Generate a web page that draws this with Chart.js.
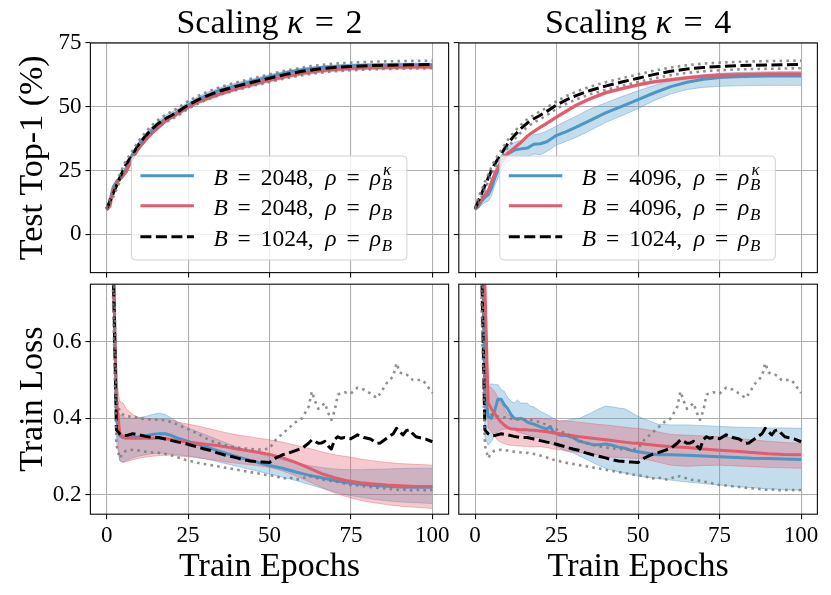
<!DOCTYPE html>
<html><head><meta charset="utf-8">
<script src="https://cdn.jsdelivr.net/npm/chart.js@4.4.1/dist/chart.umd.min.js"></script>
<style>
html,body{margin:0;padding:0;background:#fff;}
#wrap{position:relative;width:831px;height:595px;overflow:hidden;background:#fff;}
#wrap canvas{position:absolute;left:0;top:0;}
</style></head><body>
<div id="wrap">
<canvas id="cTL" width="831" height="595"></canvas>
<canvas id="cTR" width="831" height="595"></canvas>
<canvas id="cBL" width="831" height="595"></canvas>
<canvas id="cBR" width="831" height="595"></canvas>
</div>
<script>
// ---------------- DATA ----------------
const kappas = [2, 4];
const legendBatch = [[2048, 2048, 1024], [4096, 4096, 1024]];
const xTicks = [0, 25, 50, 75, 100];
const accTicks = [0, 25, 50, 75];
const lossTicks = [0.2, 0.4, 0.6];
const xTitle = 'Train Epochs';
const yTitleTop = 'Test Top-1 (%)';
const yTitleBottom = 'Train Loss';

const accEpochs = [0,1,2,3,4,5,6,8,10,12,14,16,18,20,22,25,28,31,35,40,45,50,55,60,65,70,75,80,85,90,95,100];

const accBlueK2   = [10,13,18.5,20.5,22,23,26, 31.5,35.5,38.3,41,43.2,45.2,46.7,48, 50.6,52.8,54.6,56.6, 58.4,60.1,61.8,63.3,64.5,65.3,65.8,66.1,66.3,66.4,66.5,66.5,66.5];
const accBlueK2Hi = [10.3,13.8,19.4,21.4,22.9,24,27, 32.6,36.7,39.6,42.4,44.6,46.5,48,49.3, 51.8,53.9,55.7,57.6, 59.4,61,62.6,64,65.1,65.9,66.4,66.7,66.9,67,67.1,67.1,67.1];
const accBlueK2Lo = [9.7,12.2,17.6,19.6,21.1,22,25, 30.4,34.3,37,39.6,41.8,43.9,45.4,46.7, 49.4,51.7,53.5,55.6, 57.4,59.2,61,62.6,63.9,64.7,65.2,65.5,65.7,65.8,65.9,65.9,65.9];
const accRedK2    = [9.5,11,17.5,20,21.5,23,24.5, 30,34,37,39.8,42,44.3,46,47.5, 49.8,51.8,53.3,55.1, 57.1,58.8,60.4,61.9,63.1,64,64.6,65,65.3,65.4,65.5,65.6,65.6];
const accRedK2Hi  = [10,11.7,18.2,20.7,22.2,23.7,25.2, 30.7,34.7,37.7,40.5,42.7,45,46.7,48.2, 50.5,52.5,54,55.8, 57.8,59.5,61.1,62.6,63.8,64.7,65.3,65.7,66,66.1,66.2,66.3,66.3];
const accRedK2Lo  = [9,10.3,16.8,19.3,20.8,22.3,23.8, 29.3,33.3,36.3,39.1,41.3,43.6,45.3,46.8, 49.1,51.1,52.6,54.4, 56.4,58.1,59.7,61.2,62.4,63.3,63.9,64.3,64.6,64.7,64.8,64.9,64.9];

const accBlueK4   = [10,11,13,14.5,15.5,18,22, 28,31.5,33,33.5,33.8,35.3,35.5,36.3, 38.8,40.3,42,44.5, 47.6,50.2,52.8,55.5,57.9,59.6,60.8,61.5,61.8,62,62.1,62.1,62.1];
const accBlueK4Hi = [10.3,12,14.5,16.5,18,21,25, 31,34.5,36,36.8,37.5,39,39.5,40.5, 42.5,44.5,46.3,49, 51.5,54,56.3,58.4,60.2,61.5,62.5,63.1,63.4,63.6,63.7,63.8,63.8];
const accBlueK4Lo = [9.7,10,11.5,12.5,13,15,19, 25,28.5,30,30.5,30.5,31.5,31.2,32.5, 35,36.5,38,40.5, 43.8,46.5,49.3,52.5,55,56.8,57.6,58,58.2,58.3,58.4,58.4,58.4];
const accRedK4    = [10,11.8,13.5,15.5,17,20.5,23.5, 28.5,31.8,33.8,36,38.5,40.3,42,43.5, 46,48.3,50.6,53, 55.5,57.1,58.6,59.8,60.6,61.4,62,62.4,62.6,62.7,62.8,62.8,62.8];
const accRedK4Hi  = [10.3,12.4,14.1,16.1,17.6,21.1,24.1, 29.1,32.4,34.4,36.6,39.1,40.9,42.6,44.1, 46.6,48.9,51.2,53.6, 56.1,57.7,59.2,60.4,61.2,62,62.6,63,63.2,63.3,63.4,63.4,63.4];
const accRedK4Lo  = [9.7,11.2,12.9,14.9,16.4,19.9,22.9, 27.9,31.2,33.2,35.4,37.9,39.7,41.4,42.9, 45.4,47.7,50,52.4, 54.9,56.5,58,59.2,60,60.8,61.4,61.8,62,62.1,62.2,62.2,62.2];

const accBase     = [10,13,16,19,22,25,27.5, 31.5,35.5,38.7,41.4,43.6,45.3,46.7,48.2, 50.7,52.7,54.4,56.3, 58.1,59.7,61.2,62.7,63.9,64.8,65.4,65.8,66.1,66.3,66.4,66.5,66.6];
const accBaseHi   = [10.4,14.3,17.4,20.4,23.4,26.4,29, 33,37,40.2,42.9,45.1,46.8,48.2,49.7, 52.2,54.2,55.9,57.8, 59.6,61.2,62.7,64.2,65.4,66.3,66.9,67.3,67.6,67.8,67.9,68,68.1];
const accBaseLo   = [9.6,11.7,14.6,17.6,20.6,23.6,26, 30,34,37.2,39.9,42.1,43.8,45.2,46.7, 49.2,51.2,52.9,54.8, 56.6,58.2,59.7,61.2,62.4,63.3,63.9,64.3,64.6,64.8,64.9,65,65.1];

const lossEpochsK2 = [1,2,3,4,5,6,8,10,12,14,16,18,20,22,25,28,31,34,37,40,43,46,50,54,58,62,66,70,74,78,82,86,90,95,100];
const lossBlueK2   = [2.0,0.85,0.40,0.355,0.35,0.348, 0.35,0.352,0.355,0.358,0.36,0.36,0.355,0.348, 0.34,0.332,0.324,0.316,0.308,0.30,0.293,0.286, 0.277,0.27,0.26,0.252,0.245,0.238,0.232,0.228,0.225,0.223,0.221, 0.22,0.22];
const lossBlueK2Hi = [2.1,0.95,0.43,0.41,0.405,0.40, 0.40,0.402,0.405,0.41,0.414,0.41,0.40,0.39, 0.375,0.365,0.355,0.345,0.335,0.325,0.317,0.31, 0.30,0.292,0.284,0.277,0.272,0.268,0.266,0.266,0.267,0.268,0.269, 0.27,0.27];
const lossBlueK2Lo = [1.9,0.75,0.34,0.29,0.285,0.29, 0.297,0.302,0.305,0.308,0.309,0.309,0.307,0.305, 0.302,0.298,0.293,0.287,0.281,0.275,0.269,0.263, 0.255,0.247,0.238,0.228,0.218,0.208,0.20,0.194,0.189,0.185,0.182, 0.18,0.178];
const lossRedK2    = [2.2,0.80,0.45,0.36,0.352,0.35, 0.348,0.348,0.348,0.348,0.348,0.347,0.345,0.341, 0.338,0.335,0.332,0.329,0.325,0.32,0.316,0.312, 0.306,0.297,0.285,0.271,0.256,0.245,0.237,0.232,0.229,0.226,0.224, 0.222,0.222];
const lossRedK2Hi  = [2.3,0.9,0.5,0.445,0.44,0.425, 0.41,0.402,0.40,0.398,0.397,0.397,0.396,0.39, 0.385,0.38,0.374,0.368,0.362,0.357,0.353,0.349, 0.344,0.338,0.33,0.322,0.313,0.305,0.30,0.294,0.289,0.285,0.282, 0.28,0.278];
const lossRedK2Lo  = [2.1,0.7,0.38,0.29,0.285,0.287, 0.292,0.296,0.299,0.301,0.303,0.304,0.304,0.302, 0.30,0.297,0.294,0.29,0.286,0.283,0.28,0.277, 0.272,0.263,0.25,0.235,0.22,0.205,0.195,0.186,0.18,0.175,0.171, 0.168,0.165];

const lossEpochsK4 = [1,2,3,4,5,6,7,8,9,10,11,12,13,14,15,16,17,18,20,22,23,24,26,28,30,32,34,36,38,40,42,44,46,48,50,53,56,60,65,70,75,80,85,90,95,100];
const lossBlueK4   = [2.0,1.0,0.46,0.405,0.40,0.42,0.45,0.45,0.435,0.425,0.41,0.40,0.398,0.40,0.397,0.39,0.387,0.385, 0.378,0.372,0.378,0.365, 0.356,0.355,0.35,0.34,0.336,0.332,0.331,0.333,0.33,0.325,0.322,0.316,0.313, 0.309,0.305,0.305, 0.304,0.302,0.30,0.298,0.296,0.295,0.294,0.293];
const lossBlueK4Hi = [2.2,1.1,0.485,0.485,0.49,0.488,0.488,0.475,0.47,0.455,0.445,0.44,0.448,0.44,0.44,0.44,0.432,0.43, 0.418,0.41,0.405,0.40, 0.392,0.395,0.398,0.40,0.408,0.416,0.425,0.432,0.43,0.427,0.425,0.415,0.405, 0.395,0.385,0.383, 0.383,0.381,0.379,0.377,0.376,0.375,0.375,0.374];
const lossBlueK4Lo = [1.8,0.85,0.35,0.33,0.34,0.355,0.365,0.37,0.372,0.372,0.37,0.37,0.365,0.362,0.36,0.357,0.355,0.352, 0.348,0.34,0.335,0.33, 0.322,0.315,0.31,0.302,0.294,0.285,0.277,0.27,0.265,0.26,0.257,0.254,0.25, 0.246,0.243,0.239, 0.234,0.23,0.226,0.222,0.219,0.216,0.214,0.213];
const lossRedK4    = [2.5,1.3,0.75,0.44,0.425,0.413,0.40,0.39,0.382,0.376,0.373,0.372,0.371,0.37,0.37,0.37,0.369,0.369, 0.367,0.365,0.364,0.362, 0.36,0.357,0.355,0.352,0.35,0.348,0.346,0.344,0.342,0.34,0.338,0.336,0.335, 0.332,0.329,0.326, 0.324,0.32,0.317,0.314,0.311,0.308,0.306,0.305];
const lossRedK4Hi  = [2.6,1.4,0.8,0.485,0.48,0.47,0.455,0.44,0.425,0.41,0.405,0.403,0.402,0.401,0.40,0.40,0.40,0.40, 0.40,0.398,0.397,0.395, 0.394,0.393,0.392,0.39,0.388,0.386,0.384,0.383,0.381,0.379,0.377,0.375,0.374, 0.37,0.365,0.358, 0.356,0.354,0.352,0.348,0.344,0.34,0.337,0.335];
const lossRedK4Lo  = [2.4,1.2,0.7,0.375,0.365,0.352,0.342,0.337,0.334,0.331,0.33,0.329,0.328,0.328,0.327,0.327,0.326,0.326, 0.326,0.324,0.322,0.32, 0.318,0.315,0.313,0.311,0.309,0.307,0.304,0.30,0.299,0.298,0.297,0.296,0.296, 0.292,0.286,0.278, 0.275,0.277,0.278,0.276,0.274,0.272,0.271,0.27];

const baseLossEpochs = [1,2,3,4,5,6,8,10,12,14,16,18,20,22,24,26,28,30,32,34,36,38,40,42,44,46,48,50,
  52,54,56,58,60,62,63,64,65,66,67,68,69,70,71,72,73,75,77,79,81,83,84,86,88,89,90,91,92,93,94,95,97,98,100];
const lossBase   = [2.0,0.80,0.37,0.36,0.355,0.355,0.36,0.357,0.353,0.35,0.35,0.346,0.342,0.338,0.335,0.33,0.325,0.32,0.316,0.31,0.305,0.301,0.297,0.292,0.289,0.287,0.286,0.285,
  0.297,0.305,0.31,0.316,0.322,0.335,0.344,0.34,0.335,0.336,0.34,0.328,0.32,0.345,0.352,0.348,0.35,0.347,0.357,0.35,0.346,0.335,0.336,0.348,0.36,0.374,0.365,0.357,0.368,0.37,0.36,0.352,0.348,0.346,0.339];
const lossBaseHi = [2.2,0.90,0.45,0.418,0.41,0.405,0.405,0.40,0.398,0.397,0.396,0.395,0.39,0.383,0.375,0.368,0.36,0.35,0.342,0.336,0.331,0.327,0.324,0.322,0.32,0.319,0.318,0.322,
  0.345,0.36,0.375,0.39,0.40,0.43,0.47,0.445,0.425,0.432,0.44,0.415,0.396,0.42,0.462,0.466,0.468,0.465,0.48,0.475,0.465,0.453,0.465,0.492,0.51,0.544,0.52,0.515,0.514,0.51,0.50,0.50,0.50,0.49,0.466];
const lossBaseLo = [1.8,0.70,0.33,0.296,0.31,0.316,0.318,0.316,0.313,0.311,0.31,0.307,0.303,0.298,0.292,0.288,0.284,0.281,0.278,0.275,0.272,0.269,0.266,0.263,0.26,0.257,0.254,0.251,
  0.25,0.242,0.247,0.24,0.243,0.25,0.248,0.246,0.243,0.24,0.239,0.238,0.237,0.235,0.234,0.232,0.23,0.226,0.225,0.223,0.221,0.219,0.218,0.217,0.215,0.214,0.213,0.214,0.215,0.213,0.212,0.213,0.214,0.212,0.213];

// ---------------- STYLE ----------------
const W = 831, H = 595;
const FONT = '"Liberation Serif","Times New Roman","DejaVu Serif",serif';
const BLUE = '#4a97c6', RED = '#e45b6b';
const BLUE_FILL = 'rgba(74,151,198,0.33)', RED_FILL = 'rgba(228,91,107,0.33)';
const BLUE_EDGE = 'rgba(74,151,198,0.4)', RED_EDGE = 'rgba(228,91,107,0.4)';
const GRAY = 'rgba(125,125,125,0.85)';
const RECTS = {
  TL: {l: 90.4, t: 43, r: 448.6, b: 272.6},
  TR: {l: 458.8, t: 43, r: 817.4, b: 272.6},
  BL: {l: 90.4, t: 284.2, r: 448.6, b: 514.2},
  BR: {l: 458.8, t: 284.2, r: 817.4, b: 514.2}
};

function pts(xs, ys) { return xs.map((x, i) => ({x: x, y: ys[i]})); }
function lineDS(xs, ys, color, width, dash, order) {
  return {data: pts(xs, ys), borderColor: color, borderWidth: width, borderDash: dash || [],
    pointRadius: 0, fill: false, tension: 0, order: order, borderCapStyle: 'butt', borderJoinStyle: 'round'};
}
function bandDS(xs, hi, lo, fillColor, edgeColor, order) {
  return [
    {data: pts(xs, hi), borderColor: edgeColor, borderWidth: 1, pointRadius: 0, fill: '+1', backgroundColor: fillColor, order: order, tension: 0},
    {data: pts(xs, lo), borderColor: edgeColor, borderWidth: 1, pointRadius: 0, fill: false, order: order, tension: 0}
  ];
}

// rich text
function layoutRich(ctx, segs, size) {
  let x = 0, items = [], maxX = 0, holding = false;
  for (const s of segs) {
    const fs = size * (s.s || 1);
    const font = (s.i ? 'italic ' : '') + fs + 'px ' + FONT;
    ctx.font = font;
    x += (s.pre || 0) * size;
    const w = ctx.measureText(s.t).width;
    items.push({t: s.t, font: font, x: x, dy: (s.dy || 0) * size});
    if (s.hold) { holding = true; maxX = x + w; }
    else if (holding) { x = Math.max(maxX, x + w); holding = false; }
    else x += w;
    x += (s.post || 0) * size;
  }
  return {items: items, width: x};
}
function drawRich(ctx, segs, x, y, size, align) {
  const L = layoutRich(ctx, segs, size);
  let x0 = x;
  if (align === 'center') x0 = x - L.width / 2;
  ctx.textBaseline = 'alphabetic';
  ctx.textAlign = 'left';
  ctx.fillStyle = '#000';
  for (const it of L.items) { ctx.font = it.font; ctx.fillText(it.t, x0 + it.x, y + it.dy); }
}
const EQ = {t: '=', pre: 0.42, post: 0.42};
const EQT = {t: '=', pre: 0.34, post: 0.34};
function legendSegs(batch, kappaRho) {
  const s = [{t: 'B', i: 1}, EQ, {t: String(batch) + ','}, {t: 'ρ', i: 1, pre: 0.5}, EQ, {t: 'ρ', i: 1}];
  if (kappaRho) { s.push({t: 'B', i: 1, s: 0.72, dy: 0.22, hold: 1, pre: 0.03}); s.push({t: 'κ', i: 1, s: 0.72, dy: -0.4, pre: 0.06}); }
  else s.push({t: 'B', i: 1, s: 0.72, dy: 0.22, pre: 0.03});
  return s;
}

function decoPlugin(opt) {
  return {
    id: 'deco' + opt.key,
    afterDraw(chart) {
      const ctx = chart.ctx, a = chart.chartArea;
      ctx.save();
      // frame
      ctx.strokeStyle = '#111'; ctx.lineWidth = 1.15; ctx.setLineDash([]);
      ctx.strokeRect(a.left, a.top, a.right - a.left, a.bottom - a.top);
      const cx = (a.left + a.right) / 2, cy = (a.top + a.bottom) / 2;
      if (opt.title !== undefined) {
        drawRich(ctx, [{t: 'Scaling '}, {t: 'κ', i: 1}, EQT, {t: String(opt.title)}], cx, 33, 34, 'center');
      }
      if (opt.xTitle) {
        ctx.font = '34px ' + FONT; ctx.fillStyle = '#000'; ctx.textAlign = 'center'; ctx.textBaseline = 'alphabetic';
        ctx.fillText(opt.xTitle, cx, 576);
      }
      if (opt.yTitle) {
        ctx.save(); ctx.translate(42, cy); ctx.rotate(-Math.PI / 2);
        ctx.font = '34px ' + FONT; ctx.fillStyle = '#000'; ctx.textAlign = 'center'; ctx.textBaseline = 'alphabetic';
        ctx.fillText(opt.yTitle, 0, 0); ctx.restore();
      }
      if (opt.legend) {
        const lg = opt.legend;
        const bx = a.left + 41, by = 156, bw = 275.5, bh = 104;
        ctx.beginPath();
        ctx.roundRect(bx, by, bw, bh, 4);
        ctx.fillStyle = 'rgba(255,255,255,0.8)'; ctx.fill();
        ctx.strokeStyle = 'rgba(204,204,204,0.9)'; ctx.lineWidth = 1; ctx.stroke();
        const rows = [175.7, 205.7, 236.7];
        const styles = [{c: BLUE, d: []}, {c: RED, d: []}, {c: '#000', d: [11, 4.5]}];
        for (let i = 0; i < 3; i++) {
          ctx.beginPath(); ctx.setLineDash(styles[i].d); ctx.lineCap = 'butt';
          ctx.strokeStyle = styles[i].c; ctx.lineWidth = 3;
          ctx.moveTo(bx + 9, rows[i]); ctx.lineTo(bx + 62.5, rows[i]); ctx.stroke();
          ctx.setLineDash([]);
          drawRich(ctx, legendSegs(lg[i], i === 0), bx + 82, rows[i] + 9, 23.5, 'left');
        }
      }
      ctx.restore();
    }
  };
}

function makePanel(id, key, rect, opt) {
  const gridCfg = {color: '#b0b0b0', lineWidth: 1.1, tickColor: '#111', tickLength: 5, tickWidth: 1.1, drawTicks: true};
  const tickFont = {family: FONT, size: 23};
  const yW = opt.yLabels ? 70 : 8;
  const xH = opt.xLabels ? 50 : 8;
  return new Chart(document.getElementById(id), {
    type: 'line',
    data: {datasets: opt.datasets},
    options: {
      responsive: false, animation: false, events: [],
      layout: {padding: {left: rect.l - yW, top: rect.t, right: W - rect.r, bottom: H - rect.b - xH}},
      plugins: {legend: {display: false}, tooltip: {enabled: false}, title: {display: false}},
      scales: {
        x: {type: 'linear', min: -5, max: 105,
          afterFit(s) { s.height = xH; },
          afterBuildTicks(s) { s.ticks = xTicks.map(v => ({value: v})); },
          grid: gridCfg, border: {display: false},
          ticks: {display: opt.xLabels, font: tickFont, color: '#000', padding: 3, maxRotation: 0, autoSkip: false,
            callback: v => String(v)}},
        y: {type: 'linear', min: opt.yMin, max: opt.yMax,
          afterFit(s) { s.width = yW; },
          afterBuildTicks(s) { s.ticks = opt.yTicks.map(v => ({value: v})); },
          grid: gridCfg, border: {display: false},
          ticks: {display: opt.yLabels, font: tickFont, color: '#000', padding: 4, autoSkip: false,
            callback: v => opt.yFmt(v)}}
      }
    },
    plugins: [decoPlugin(Object.assign({key: key}, opt.deco))]
  });
}

function accDatasets(blue, blueHi, blueLo, red, redHi, redLo) {
  return [
    ...bandDS(accEpochs, blueHi, blueLo, BLUE_FILL, BLUE_EDGE, 10),
    ...bandDS(accEpochs, redHi, redLo, RED_FILL, RED_EDGE, 9),
    lineDS(accEpochs, blue, BLUE, 3, [], 5),
    lineDS(accEpochs, red, RED, 3, [], 4),
    lineDS(accEpochs, accBase, '#000', 3, [11, 4.5], 3),
    lineDS(accEpochs, accBaseHi, GRAY, 2.6, [2.6, 4.2], 2),
    lineDS(accEpochs, accBaseLo, GRAY, 2.6, [2.6, 4.2], 2)
  ];
}
function lossDatasets(xs, blue, blueHi, blueLo, red, redHi, redLo) {
  return [
    ...bandDS(xs, blueHi, blueLo, BLUE_FILL, BLUE_EDGE, 10),
    ...bandDS(xs, redHi, redLo, RED_FILL, RED_EDGE, 9),
    lineDS(xs, blue, BLUE, 3, [], 5),
    lineDS(xs, red, RED, 3, [], 4),
    lineDS(baseLossEpochs, lossBase, '#000', 3, [11, 4.5], 3),
    lineDS(baseLossEpochs, lossBaseHi, GRAY, 2.6, [2.6, 4.2], 2),
    lineDS(baseLossEpochs, lossBaseLo, GRAY, 2.6, [2.6, 4.2], 2)
  ];
}
const accFmt = v => String(v);
const lossFmt = v => v.toFixed(1);

makePanel('cTL', 'TL', RECTS.TL, {
  datasets: accDatasets(accBlueK2, accBlueK2Hi, accBlueK2Lo, accRedK2, accRedK2Hi, accRedK2Lo),
  xLabels: false, yLabels: true, yMin: -15, yMax: 75, yTicks: accTicks, yFmt: accFmt,
  deco: {title: kappas[0], yTitle: yTitleTop, legend: legendBatch[0]}
});
makePanel('cTR', 'TR', RECTS.TR, {
  datasets: accDatasets(accBlueK4, accBlueK4Hi, accBlueK4Lo, accRedK4, accRedK4Hi, accRedK4Lo),
  xLabels: false, yLabels: false, yMin: -15, yMax: 75, yTicks: accTicks, yFmt: accFmt,
  deco: {title: kappas[1], legend: legendBatch[1]}
});
makePanel('cBL', 'BL', RECTS.BL, {
  datasets: lossDatasets(lossEpochsK2, lossBlueK2, lossBlueK2Hi, lossBlueK2Lo, lossRedK2, lossRedK2Hi, lossRedK2Lo),
  xLabels: true, yLabels: true, yMin: 0.15, yMax: 0.75, yTicks: lossTicks, yFmt: lossFmt,
  deco: {xTitle: xTitle, yTitle: yTitleBottom}
});
makePanel('cBR', 'BR', RECTS.BR, {
  datasets: lossDatasets(lossEpochsK4, lossBlueK4, lossBlueK4Hi, lossBlueK4Lo, lossRedK4, lossRedK4Hi, lossRedK4Lo),
  xLabels: true, yLabels: false, yMin: 0.15, yMax: 0.75, yTicks: lossTicks, yFmt: lossFmt,
  deco: {xTitle: xTitle}
});
</script>
</body></html>
